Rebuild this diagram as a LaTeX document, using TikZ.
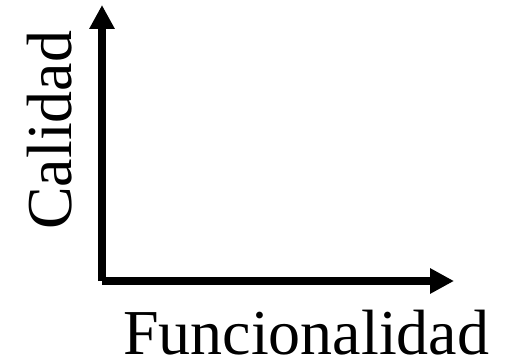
\documentclass[tikz,border=0pt]{standalone}
\usepackage{fontspec}
\setmainfont{Liberation Serif}
\usetikzlibrary{arrows.meta}

\begin{document}
\begin{tikzpicture}[
    x=1pt, y=1pt,
    axis/.style={line width=8pt, -{Triangle[length=24pt, width=24pt]}},
    axislabel/.style={inner sep=0pt, text depth=0pt, font=\fontsize{64}{70}\selectfont}
]
  \useasboundingbox (0,0) rectangle (510,361);

  % --- Axes ---
  \coordinate (origin) at (102, 80);
  \coordinate (ytip) at (102, 356);
  \coordinate (xtip) at (454, 80);

  \draw[axis] (origin) -- (ytip);
  \draw[axis] (origin) -- (xtip);

  % --- Labels ---
  \node[axislabel, rotate=90, anchor=base west] (quality) at (71.5, 131) {Calidad};
  \node[axislabel, anchor=base west] (function) at (123, 6.5) {Funcionalidad};

\end{tikzpicture}
\end{document}
